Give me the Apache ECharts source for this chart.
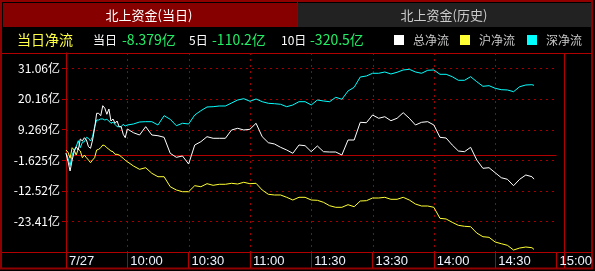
<!DOCTYPE html>
<html>
<head>
<meta charset="utf-8">
<script src="https://cdn.jsdelivr.net/npm/echarts@6/dist/echarts.min.js"></script>
<style>
html,body{margin:0;padding:0;background:#000;}
#chart{width:595px;height:271px;}
</style>
</head>
<body>
<div id="chart"></div>
<script>
// ---- data ----
const times = [
 '09:30','09:31','09:32','09:33','09:34','09:35','09:36','09:37','09:38','09:39',
 '09:40','09:41','09:42','09:43','09:44','09:45','09:46','09:47','09:48','09:49',
 '09:50','09:51','09:52','09:53','09:54','09:55','09:56','09:57','09:58','09:59','10:00',
 '10:03','10:06','10:09','10:12','10:15','10:18','10:21','10:24','10:27','10:30',
 '10:33','10:36','10:39','10:42','10:45','10:48','10:51','10:54','10:57','11:00',
 '11:03','11:06','11:09','11:12','11:15','11:18','11:21','11:24','11:27','11:30',
 '13:03','13:06','13:09','13:12','13:15','13:18','13:21','13:24','13:27','13:30',
 '13:33','13:36','13:39','13:42','13:45','13:48','13:51','13:54','13:57','14:00',
 '14:03','14:06','14:09','14:12','14:15','14:18','14:21','14:24','14:27','14:30',
 '14:33','14:36','14:39','14:42','14:45','14:48','14:49'
];
const totalFlow = [
 0.82,-2.17,-5.48,-1.57,1.39,3.17,1.99,5.91,5.20,6.37,
 5.55,3.17,2.60,5.55,9.72,15.05,15.05,14.20,17.76,16.83,
 14.70,16.58,12.31,13.03,11.50,12.31,10.29,10.29,7.58,6.37,9.47,
 8.15,7.33,10.29,7.33,7.08,6.51,0.82,-0.61,-0.14,-3.0,
 3.77,4.95,6.73,6.16,6.16,6.16,9.11,9.72,9.11,9.36,
 11.50,6.73,4.59,4.13,2.95,1.99,0.82,3.77,3.52,1.39,
 3.42,1.39,1.28,1.28,0.21,5.55,5.55,11.85,11.71,14.45,
 13.28,13.84,12.42,13.28,15.27,13.28,10.89,11.85,12.07,10.89,
 6.51,6.26,3.77,1.64,1.39,2.95,-1.57,-4.52,-4.31,-6.09,
 -7.87,-8.43,-10.71,-8.43,-6.90,-7.51,-8.379
];
const shFlow = [
 1.99,1.17,-0.96,2.81,1.99,0.21,2.35,1.64,-0.75,0.21,
 -0.75,-1.57,-2.53,-1.57,-0.75,1.99,2.24,2.81,3.77,3.52,
 2.81,2.24,1.64,1.39,0.46,0.46,0.21,-0.39,-0.96,-1.67,-2.17,
 -3.70,-4.88,-4.31,-6.30,-7.51,-7.51,-11.07,-12.24,-12.85,-12.85,
 -10.71,-11.07,-10.00,-10.57,-10.21,-10.21,-9.86,-10.11,-9.50,-10.00,
 -9.86,-12.24,-13.77,-14.02,-14.02,-14.84,-15.80,-14.84,-14.84,-15.80,
 -15.91,-16.62,-17.83,-18.40,-18.40,-17.47,-18.19,-16.16,-16.05,-15.09,
 -15.09,-14.84,-15.55,-15.55,-14.84,-15.80,-17.23,-17.94,-17.94,-18.40,
 -22.32,-22.56,-23.74,-24.81,-25.16,-25.30,-27.55,-28.86,-29.08,-30.75,
 -31.35,-31.92,-33.60,-32.89,-32.53,-32.78,-33.38
];
const szFlow = [
 0.82,-0.96,-3.59,0.21,1.99,3.17,5.30,2.81,4.73,4.95,
 6.51,6.16,5.20,6.73,10.29,12.67,12.67,13.03,13.03,12.67,
 12.92,12.31,11.50,11.85,11.14,10.29,10.29,10.29,11.14,10.53,10.89,
 11.25,11.96,12.07,12.07,10.89,14.20,12.92,10.64,11.50,11.25,
 14.45,15.98,17.30,17.40,17.65,17.65,18.72,19.79,20.25,19.33,
 20.14,19.18,18.61,18.47,18.26,17.40,18.01,19.18,19.18,18.01,
 19.79,19.43,19.18,20.75,20.04,22.99,24.31,27.97,28.33,29.29,
 29.29,29.75,29.04,29.65,30.47,30.71,29.75,29.29,30.36,30.47,
 28.93,28.93,28.08,26.80,26.80,28.08,26.30,24.66,24.88,23.95,
 23.45,23.35,22.74,24.52,25.13,25.23,25.00
];
const seriesNames = ['总净流','沪净流','深净流'];
const xTickLabels = ['7/27','10:00','10:30','11:00','11:30','13:30','14:00','14:30','15:00'];
const yTickValues = [31.06, 20.16, 9.269, -1.625, -12.52, -23.41];
const yTickLabels = ['31.06亿','20.16亿','9.269亿','-1.625亿','-12.52亿','-23.41亿'];
const statLabels = ['当日','5日','10日'];
const statValues = ['-8.379亿','-110.2亿','-320.5亿'];
const tabLabels = ['北上资金(当日)','北上资金(历史)'];

// ---- helpers ----
function tradeMinute(t) {
  const p = t.split(':');
  const m = (+p[0]) * 60 + (+p[1]);
  return m <= 690 ? m - 570 : m - 780 + 120;
}
function pairs(vals) { return vals.map((v, i) => [tradeMinute(times[i]), v]); }

const RED = '#b00000';
const DOT = '#a00000';
const CJK = '"Noto Sans CJK SC"';
const X_MIN = 0, X_MAX = 240, X_STEP = 30;
const Y_MIN = -34.304, Y_MAX = 36.51, Y_STEP = 10.894;

const chart = echarts.init(document.getElementById('chart'), null, {renderer: 'canvas'});

function txt(x, y, s, fill, size, align) {
  return {type: 'text', x: x, y: y, silent: true,
    style: {text: s, fill: fill, font: size + 'px ' + CJK, align: align || 'left', verticalAlign: 'middle'}};
}
function ln(x1, y1, x2, y2, c, w, dash) {
  const st = {stroke: c || RED, lineWidth: w || 1};
  if (dash) st.lineDash = dash;
  return {type: 'line', silent: true, z: 0, shape: {x1: x1, y1: y1, x2: x2, y2: y2}, style: st};
}

const graphics = [
  {type: 'rect', silent: true, shape: {x: 3, y: 3, width: 294, height: 24}, style: {fill: '#860000'}},
  {type: 'rect', silent: true, shape: {x: 298, y: 3, width: 293, height: 24}, style: {fill: '#222222'}},
  {type: 'rect', silent: true, shape: {x: 1, y: 1, width: 591, height: 267.5}, style: {fill: null, stroke: '#900000', lineWidth: 2}},
  ln(297.5, 2, 297.5, 27, '#900000'),
  txt(149, 15.5, tabLabels[0], '#ffffff', 13, 'center'),
  txt(444, 15.5, tabLabels[1], '#cccccc', 13, 'center'),
  txt(17, 40, '当日净流', '#ffff44', 14),
  txt(93, 40, statLabels[0], '#ffffff', 12),
  txt(122, 40, statValues[0], '#22ee66', 14),
  txt(189, 40, statLabels[1], '#ffffff', 12),
  txt(212, 40, statValues[1], '#22ee66', 14),
  txt(281, 40, statLabels[2], '#ffffff', 12),
  txt(310, 40, statValues[2], '#22ee66', 14),
  ln(2, 53.5, 592, 53.5),
  ln(2, 252.5, 592, 252.5),
  ln(66.5, 53, 66.5, 268),
  ln(564.5, 53, 564.5, 268)
];
const legendColors = ['#ffffff', '#ffff33', '#00ffff'];
const legendX = [394, 460, 527];
for (let i = 0; i < 3; i++) {
  graphics.push({type: 'rect', silent: true, shape: {x: legendX[i], y: 35, width: 10, height: 10}, style: {fill: legendColors[i]}});
  graphics.push(txt(legendX[i] + 19, 40, seriesNames[i], '#c8c8c8', 12));
}

function lineSeries(name, vals, color, extra) {
  return Object.assign({
    name: name, type: 'line', data: pairs(vals), showSymbol: false, symbol: 'none',
    color: color, lineStyle: {color: color, width: 1}, animation: false, silent: true, z: 3
  }, extra || {});
}

chart.setOption({
  backgroundColor: '#000000',
  animation: false,
  grid: {left: 66, right: 31, top: 53, bottom: 19, containLabel: false},
  xAxis: {
    type: 'value', min: X_MIN, max: X_MAX, interval: X_STEP,
    axisLine: {show: true, onZero: false, lineStyle: {color: RED, width: 1}},
    axisTick: {show: true, length: 16, lineStyle: {color: RED, width: 1}},
    splitLine: {show: false},
    axisLabel: {
      show: true, margin: 2, align: 'left', padding: [0, 0, 0, 3],
      color: '#eef4ff', fontSize: 13, lineHeight: 14,
      fontFamily: '"Liberation Sans Narrow", "Arial Narrow", "Liberation Sans", Arial, sans-serif',
      formatter: function (v) { return xTickLabels[Math.round(v / X_STEP)] || ''; }
    }
  },
  yAxis: {
    type: 'value', min: Y_MIN, max: Y_MAX, interval: Y_STEP, scale: true,
    axisLine: {show: true, onZero: false, lineStyle: {color: RED, width: 1}},
    axisTick: {show: true, length: 4, lineStyle: {color: RED, width: 1}},
    splitLine: {show: false},
    axisLabel: {
      show: true, margin: 6, color: '#ffffff', fontSize: 12, fontFamily: CJK,
      formatter: function (v) {
        for (let i = 0; i < yTickValues.length; i++) {
          if (Math.abs(v - yTickValues[i]) < 0.05) return yTickLabels[i];
        }
        return '';
      }
    }
  },
  series: [
    lineSeries(seriesNames[1], shFlow, '#ffff33'),
    lineSeries(seriesNames[2], szFlow, '#00ffff'),
    lineSeries(seriesNames[0], totalFlow, '#ffffff', {
      markLine: {silent: true, symbol: 'none', label: {show: false}, z: 1,
        lineStyle: {color: RED, type: 'solid', width: 1}, data: [{yAxis: 0}]}
    })
  ],
  graphic: graphics
});

// dotted grid, positioned through the chart's own scales
const gridLines = [];
const pTopLeft = chart.convertToPixel({gridIndex: 0}, [X_MIN, Y_MAX]);
const pBotRight = chart.convertToPixel({gridIndex: 0}, [X_MAX, Y_MIN]);
for (let k = 1; k < (X_MAX - X_MIN) / X_STEP; k++) {
  const px = Math.round(chart.convertToPixel({gridIndex: 0}, [X_MIN + k * X_STEP, 0])[0]) + 0.5;
  gridLines.push(ln(px, pTopLeft[1], px, pBotRight[1], DOT, 1, [2, 4]));
}
for (let i = 0; i < yTickValues.length; i++) {
  const py = Math.round(chart.convertToPixel({gridIndex: 0}, [0, yTickValues[i]])[1]) + 0.5;
  gridLines.push(ln(pTopLeft[0], py, pBotRight[0], py, DOT, 1, [2, 4]));
}
chart.setOption({graphic: graphics.concat(gridLines)});
</script>
</body>
</html>
